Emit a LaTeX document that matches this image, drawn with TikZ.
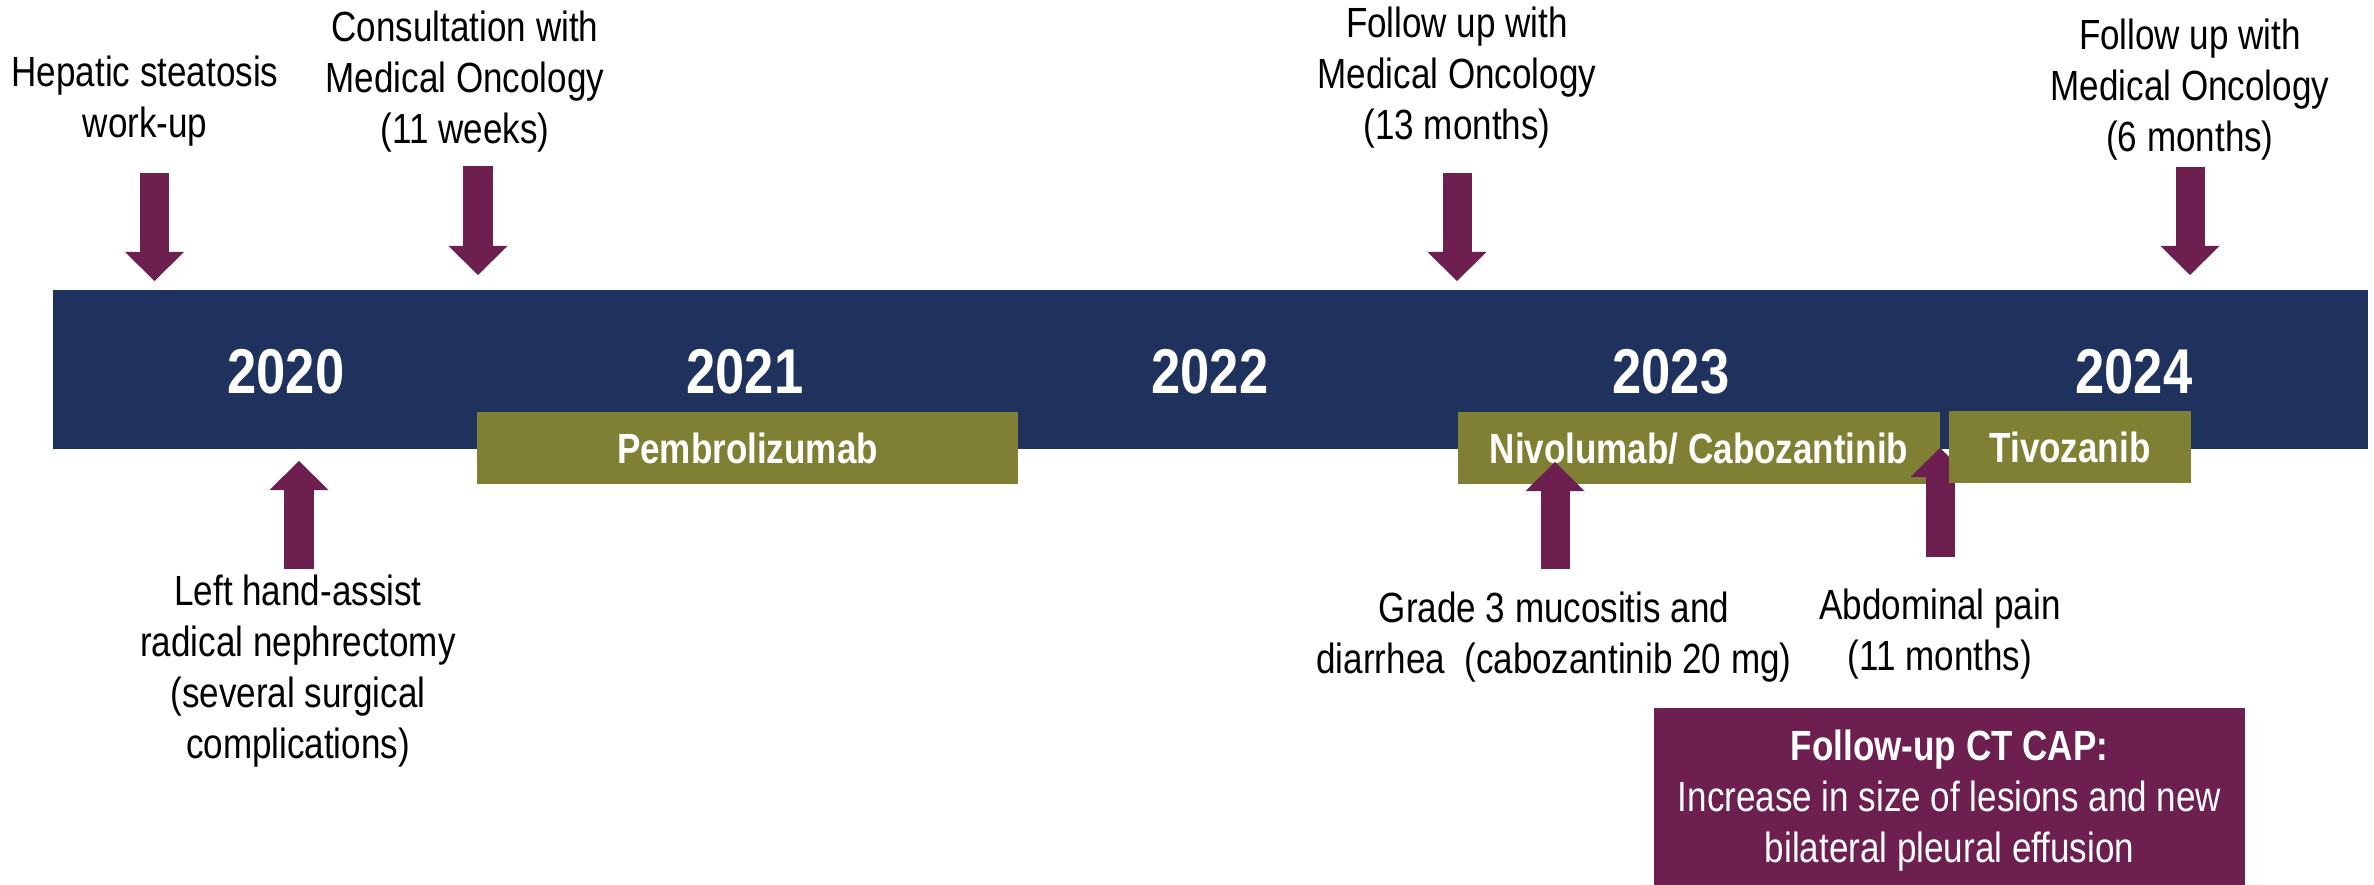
\documentclass[tikz,border=0pt]{standalone}
\usepackage{fontspec}
\setmainfont{Liberation Sans}[FakeStretch=0.83]
\usetikzlibrary{arrows.meta}
\definecolor{barnavy}{RGB}{31,50,94}
\definecolor{drugolive}{RGB}{127,128,51}
\definecolor{eventpurple}{RGB}{109,31,79}
\tikzset{
  yearlabel/.style={text=white, anchor=base, inner sep=0pt, font=\fontsize{18}{20}\selectfont\bfseries},
  drugbox/.style={fill=drugolive, text=white, inner sep=0pt, minimum height=0.72cm, text depth=0pt, font=\fontsize{12}{14.5}\selectfont\bfseries},
  eventlabel/.style={align=center, anchor=north, inner sep=0pt, font=\fontsize{12}{14.5}\selectfont},
  eventarrow/.style={draw=eventpurple, line width=0.29cm, -{Triangle[width=0.59cm,length=0.29cm,line width=0pt]}},
}
\begin{document}
\begin{tikzpicture}[x=0.01cm, y=-0.01cm]
    \useasboundingbox (0,0) rectangle (2374,885);
    % time line
    \node (timeline) [fill=barnavy, minimum width=23.13cm, minimum height=1.59cm, inner sep=0pt] at (1210.5,369.5) {};
    \node (y2020) [yearlabel] at (286,394) {2020};
    \node (y2021) [yearlabel] at (745,394) {2021};
    \node (y2022) [yearlabel] at (1210,394) {2022};
    \node (y2023) [yearlabel] at (1671,394) {2023};
    \node (y2024) [yearlabel] at (2134,394) {2024};
    % treatments
    \node (pembro) [drugbox, minimum width=5.41cm] at (747.5,448) {Pembrolizumab};
    \node (nivo) [drugbox, minimum width=4.82cm] at (1699,448) {Nivolumab/ Cabozantinib};
    % events above the line
    \node (hepatic) [eventlabel] at (145,55) {Hepatic steatosis\\work-up};
    \node (consult) [eventlabel] at (465,10) {Consultation with\\Medical Oncology\\(11 weeks)};
    \node (follow13) [eventlabel] at (1457,6) {Follow up with\\Medical Oncology\\(13 months)};
    \node (follow6) [eventlabel] at (2190,18) {Follow up with\\Medical Oncology\\(6 months)};
    \coordinate (hepatic-a) at (154.5,173);
    \coordinate (hepatic-b) at (154.5,281);
    \coordinate (consult-a) at (478,166);
    \coordinate (consult-b) at (478,275);
    \coordinate (follow13-a) at (1457,173);
    \coordinate (follow13-b) at (1457,281);
    \coordinate (follow6-a) at (2190,167);
    \coordinate (follow6-b) at (2190,275);
    \draw [eventarrow] (hepatic-a) -- (hepatic-b);
    \draw [eventarrow] (consult-a) -- (consult-b);
    \draw [eventarrow] (follow13-a) -- (follow13-b);
    \draw [eventarrow] (follow6-a) -- (follow6-b);
    % events below the line
    \node (nephrect) [eventlabel] at (298,574) {Left hand-assist\\radical nephrectomy\\(several surgical\\complications)};
    \node (mucositis) [eventlabel] at (1554,591) {Grade 3 mucositis and\\diarrhea\ \ (cabozantinib 20 mg)};
    \node (abdpain) [eventlabel] at (1940,588) {Abdominal pain\\(11 months)};
    \coordinate (nephrect-a) at (299,569);
    \coordinate (nephrect-b) at (299,461);
    \coordinate (mucositis-a) at (1555,569);
    \coordinate (mucositis-b) at (1555,462);
    \coordinate (abdpain-a) at (1940,557);
    \coordinate (abdpain-b) at (1940,448);
    \draw [eventarrow] (nephrect-a) -- (nephrect-b);
    \draw [eventarrow] (mucositis-a) -- (mucositis-b);
    \draw [eventarrow] (abdpain-a) -- (abdpain-b);
    \node (tivo) [drugbox, minimum width=2.42cm] at (2070,447) {Tivozanib};
    % imaging result
    \node (ctcap) [fill=eventpurple, text=white, align=center, inner sep=0pt, minimum width=5.91cm, minimum height=1.85cm, font=\fontsize{12}{14.5}\selectfont] at (1949.5,800.5) {\textbf{Follow-up CT CAP:}\\Increase in size of lesions and new\\bilateral pleural effusion};
\end{tikzpicture}
\end{document}
